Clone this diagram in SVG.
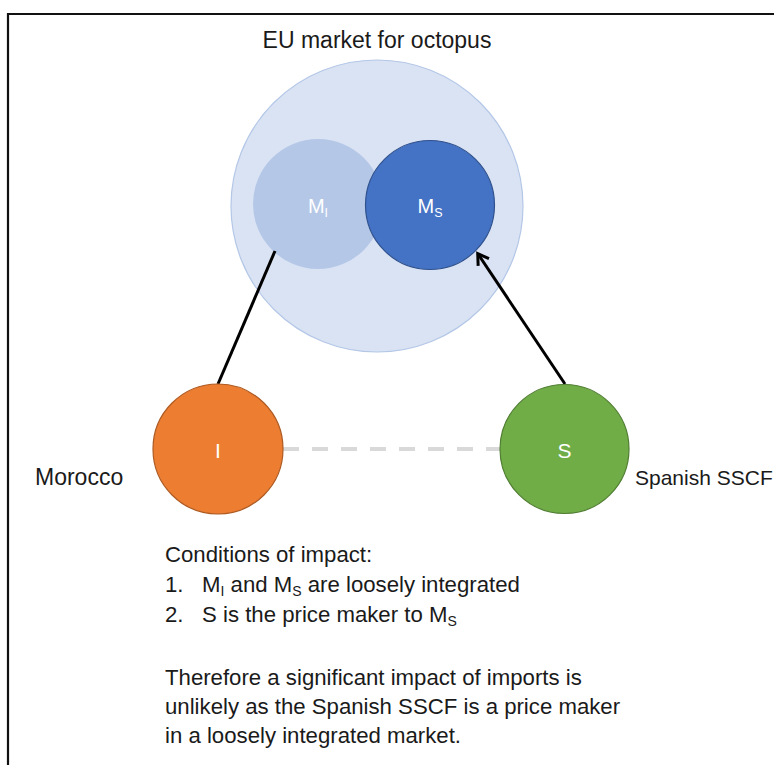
<svg xmlns="http://www.w3.org/2000/svg" width="774" height="765" viewBox="0 0 774 765">
<defs>
<style>
.t{font-family:"Liberation Sans",Arial,sans-serif;fill:#1a1a1a}
.w{font-family:"Liberation Sans",Arial,sans-serif;fill:#ffffff;text-anchor:middle}
.conn{stroke:#000;stroke-width:3;fill:none}
</style>
<marker id="open" viewBox="0 0 16 16" refX="13" refY="8" markerWidth="16" markerHeight="16" markerUnits="userSpaceOnUse" orient="auto">
<path d="M3,1.5 L13.5,8 L3,14.5" fill="none" stroke="#000" stroke-width="3"/>
</marker>
</defs>
<rect width="774" height="765" fill="#fff"/>
<path d="M8,765 V14 H774" fill="none" stroke="#111" stroke-width="2.2"/>
<text class="t" x="377" y="48" font-size="23" text-anchor="middle">EU market for octopus</text>
<g id="eu-market">
<circle cx="377" cy="206" r="146" fill="#DAE3F3" stroke="#B4C7E7" stroke-width="1.2"/>
</g>
<g id="MI">
<circle cx="318" cy="204" r="65" fill="#B4C7E7"/>
<text class="w" x="318" y="213" font-size="20">M<tspan font-size="12.5" dy="4">I</tspan></text>
</g>
<g id="MS">
<circle cx="430" cy="205" r="64.5" fill="#4472C4" stroke="#2F528F" stroke-width="1.2"/>
<text class="w" x="430" y="213" font-size="20">M<tspan font-size="12.5" dy="4">S</tspan></text>
</g>
<g id="connectors">
<line x1="283" y1="449" x2="500" y2="449" stroke="#D9D9D9" stroke-width="4" stroke-dasharray="16,13"/>
<line class="conn" x1="218" y1="384" x2="275" y2="251"/>
<line class="conn" x1="565" y1="384" x2="478" y2="254" marker-end="url(#open)"/>
</g>
<g id="I">
<circle cx="218" cy="449" r="65" fill="#ED7D31" stroke="#AE5A21" stroke-width="1.2"/>
<text class="w" x="218" y="458" font-size="21">I</text>
</g>
<g id="S">
<circle cx="564.5" cy="449" r="64.5" fill="#70AD47" stroke="#507E32" stroke-width="1.2"/>
<text class="w" x="564.5" y="458" font-size="21">S</text>
</g>
<text class="t" x="35" y="485" font-size="23">Morocco</text>
<text class="t" x="635" y="485" font-size="21">Spanish SSCF</text>
<g id="conditions" class="t" font-size="22.2">
<text class="t" x="165" y="562">Conditions of impact:</text>
<text class="t" x="165" y="592">1.</text>
<text class="t" x="202" y="592">M<tspan font-size="14" dy="4">I</tspan><tspan dy="-4"> and M</tspan><tspan font-size="14" dy="4">S</tspan><tspan dy="-4"> are loosely integrated</tspan></text>
<text class="t" x="165" y="622">2.</text>
<text class="t" x="202" y="622">S is the price maker to M<tspan font-size="14" dy="4">S</tspan></text>
<text class="t" x="165" y="685">Therefore a significant impact of imports is</text>
<text class="t" x="165" y="714">unlikely as the Spanish SSCF is a price maker</text>
<text class="t" x="165" y="743">in a loosely integrated market.</text>
</g>
</svg>
